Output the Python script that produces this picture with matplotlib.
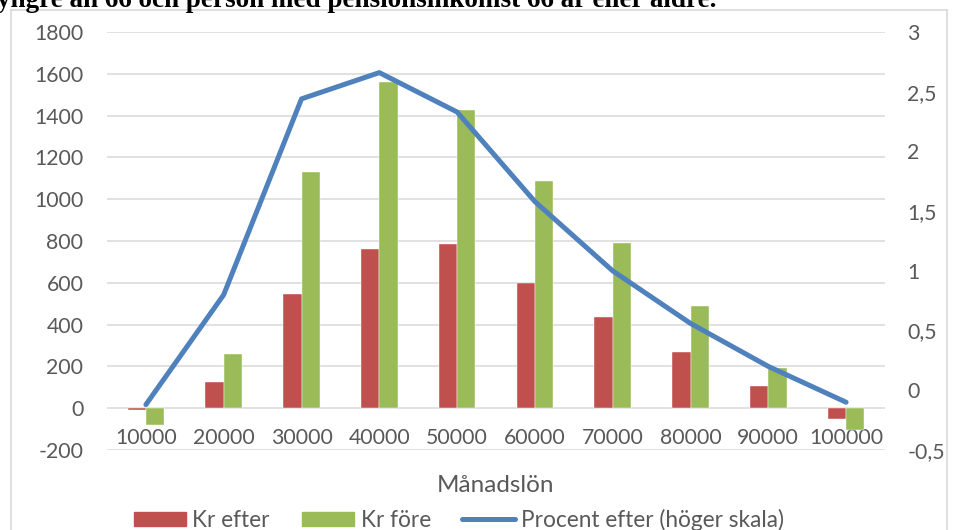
import numpy as np
import matplotlib
matplotlib.use("Agg")
import matplotlib.pyplot as plt
from matplotlib.patches import Patch
from matplotlib.lines import Line2D

# data
manadslon = ['10000', '20000', '30000', '40000', '50000',
             '60000', '70000', '80000', '90000', '100000']
kr_efter = [-10, 126, 545, 764, 785, 597, 437, 269, 105, -53]
kr_fore = [-81, 257, 1128, 1561, 1429, 1088, 791, 491, 190, -105]
procent_efter = [-0.12, 0.80, 2.44, 2.66, 2.33, 1.58, 1.00, 0.56, 0.20, -0.10]

left_ticks = list(range(-200, 1801, 200))
right_ticks = [-0.5, 0, 0.5, 1, 1.5, 2, 2.5, 3]
right_labels = ['-0,5', '0', '0,5', '1', '1,5', '2', '2,5', '3']

RED = '#C0504D'
GREEN = '#9BBB59'
BLUE = '#4F81BD'
TXT = '#595959'
GRID = '#D9D9D9'

plt.rcParams['font.family'] = ['Lato', 'DejaVu Sans']
plt.rcParams['axes.unicode_minus'] = False

W, H = 954, 530
fig = plt.figure(figsize=(W / 100, H / 100), dpi=100)

# text from the document above the chart (cut off at the top)
fig.text(-3 / W, 1 - 7 / H,
         'yngre än 66 och person med pensionsinkomst 66 år eller äldre.',
         family='Liberation Serif', weight='bold', fontsize=19.5,
         ha='left', va='baseline', color='black')

# chart frame
for xs, ys in [((11, 11), (10, 540)), ((11, 947), (10, 10)), ((947, 947), (10, 540))]:
    fig.add_artist(Line2D([x / W for x in xs], [1 - y / H for y in ys],
                          color=GRID, lw=1.2))

x0, x1, y0, y1 = 107, 885, 32, 450
ax = fig.add_axes([x0 / W, 1 - y1 / H, (x1 - x0) / W, (y1 - y0) / H])
ax2 = ax.twinx()

x = np.arange(len(manadslon))
w = 0.235
ax.bar(x - w / 2, kr_efter, w, color=RED, edgecolor='white', linewidth=0.3)
ax.bar(x + w / 2, kr_fore, w, color=GREEN, edgecolor='white', linewidth=0.3)

ax.set_xlim(-0.5, len(manadslon) - 0.5)
ax.set_ylim(-200, 1800)
ax.set_yticks(left_ticks)
ax.set_axisbelow(True)
ax.yaxis.grid(True, color=GRID, lw=1.1)
ax.set_xticks(x)
ax.set_xticklabels(manadslon)
ax.spines['bottom'].set_position(('data', 0))
for s in ax.spines.values():
    s.set_visible(False)
ax.tick_params(axis='y', length=0, pad=17, labelsize=15.3, labelcolor=TXT)
ax.tick_params(axis='x', length=0, pad=14, labelsize=15.3, labelcolor=TXT)

ax2.plot(x, procent_efter, color=BLUE, lw=3.6, solid_capstyle='round',
         solid_joinstyle='round')
ax2.set_ylim(-0.5, 3)
ax2.set_yticks(right_ticks)
ax2.set_yticklabels(right_labels)
for s in ax2.spines.values():
    s.set_visible(False)
ax2.tick_params(axis='y', length=0, pad=16, labelsize=15.3, labelcolor=TXT)

fig.text(496 / W, 1 - 486 / H, 'Månadslön', ha='center', va='center',
         fontsize=17.5, color=TXT)

handles = [Patch(color=RED), Patch(color=GREEN),
           Line2D([], [], color=BLUE, lw=3.6, solid_capstyle='round')]
fig.legend(handles, ['Kr efter', 'Kr före', 'Procent efter (höger skala)'],
           loc='center', bbox_to_anchor=(459 / W, 1 - 520 / H), ncol=3,
           frameon=False, fontsize=16.3, labelcolor=TXT, handlelength=2.3,
           handleheight=0.62, handletextpad=0.3, columnspacing=1.4,
           borderaxespad=0)

fig.savefig('out.png', dpi=100)
